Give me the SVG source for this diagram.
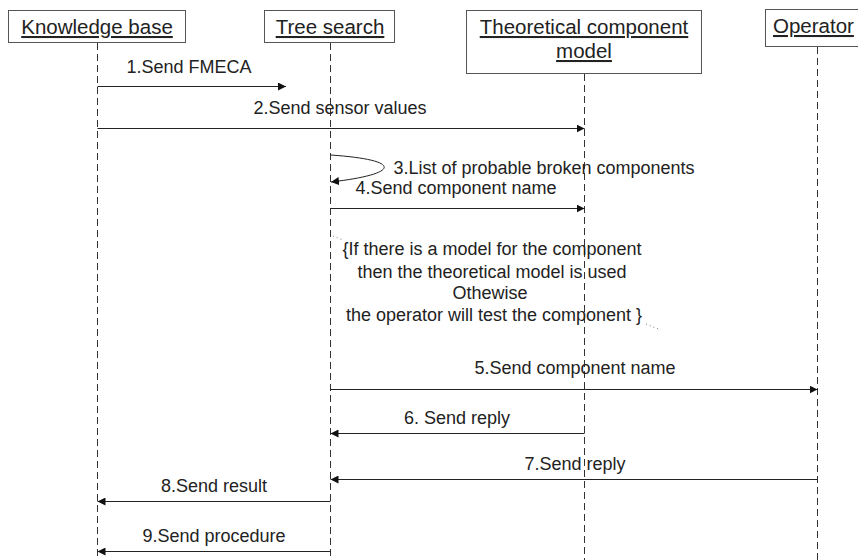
<svg xmlns="http://www.w3.org/2000/svg" width="858" height="560" viewBox="0 0 858 560">
  <style>
    .box { fill: #ffffff; stroke: #555555; stroke-width: 1; }
    .title { font-family: "Liberation Sans", Arial, sans-serif; font-size: 20.5px; fill: #222222; text-decoration: underline; text-anchor: middle; }
    .life { stroke: #333333; stroke-width: 1; stroke-dasharray: 7 4; fill: none; }
    .msg { stroke: #222222; stroke-width: 1; fill: none; marker-end: url(#head); }
    .lbl { font-family: "Liberation Sans", Arial, sans-serif; font-size: 18px; fill: #222222; text-anchor: middle; }
    .dots { stroke: #777777; stroke-width: 1; stroke-dasharray: 1 3; fill: none; }
  </style>
  <defs>
    <marker id="head" viewBox="0 0 8 8" refX="8" refY="4" markerWidth="8" markerHeight="8" markerUnits="userSpaceOnUse" orient="auto">
      <path d="M0,0 L8,4 L0,8 Z" fill="#111111"/>
    </marker>
  </defs>
  <rect width="858" height="560" fill="#ffffff"/>

  <!-- lifeline heads and their dashed lifelines -->
  <g id="knowledge-base">
    <rect class="box" x="8.5" y="10.5" width="177" height="32"/>
    <text class="title" x="97" y="34">Knowledge base</text>
    <line class="life" x1="97.5" y1="43" x2="97.5" y2="560"/>
  </g>
  <g id="tree-search">
    <rect class="box" x="264.5" y="10.5" width="130" height="32"/>
    <text class="title" x="330" y="34">Tree search</text>
    <line class="life" x1="330.5" y1="43" x2="330.5" y2="560"/>
  </g>
  <g id="theoretical-component-model">
    <rect class="box" x="466.5" y="10.5" width="235" height="63"/>
    <text class="title" x="584" y="34">Theoretical component</text>
    <text class="title" x="584" y="58">model</text>
    <line class="life" x1="584.5" y1="74" x2="584.5" y2="560"/>
  </g>
  <g id="operator">
    <rect class="box" x="765.5" y="9.5" width="110" height="37"/>
    <text class="title" x="773" y="33" style="text-anchor: start">Operator</text>
    <line class="life" x1="817.5" y1="47" x2="817.5" y2="560"/>
  </g>

  <!-- messages -->
  <g id="connectors">
    <line class="msg" x1="97.5" y1="86.5" x2="286" y2="86.5"/>
    <line class="msg" x1="97.5" y1="128.5" x2="584.5" y2="128.5"/>
    <path class="msg" d="M330.5,155 C404,160 400,174 331,182"/>
    <line class="msg" x1="330.5" y1="208.5" x2="584.5" y2="208.5"/>
    <line class="msg" x1="330.5" y1="389.5" x2="817.5" y2="389.5"/>
    <line class="msg" x1="584.5" y1="433.5" x2="330.5" y2="433.5"/>
    <line class="msg" x1="817.5" y1="479.5" x2="330.5" y2="479.5"/>
    <line class="msg" x1="330.5" y1="501.5" x2="97.5" y2="501.5"/>
    <line class="msg" x1="330.5" y1="551.5" x2="97.5" y2="551.5"/>
    <line class="dots" x1="333" y1="236" x2="343" y2="240"/>
    <line class="dots" x1="646" y1="324" x2="661" y2="330"/>
  </g>

  <!-- message labels -->
  <g id="labels">
    <text class="lbl" x="189" y="73">1.Send FMECA</text>
    <text class="lbl" x="340" y="114">2.Send sensor values</text>
    <text class="lbl" x="544" y="174">3.List of probable broken components</text>
    <text class="lbl" x="456" y="194">4.Send component name</text>
    <text class="lbl" x="575" y="374">5.Send component name</text>
    <text class="lbl" x="457" y="424">6. Send reply</text>
    <text class="lbl" x="575" y="470">7.Send reply</text>
    <text class="lbl" x="214" y="492">8.Send result</text>
    <text class="lbl" x="214" y="542">9.Send procedure</text>
  </g>

  <!-- guard note -->
  <g id="note">
    <text class="lbl" x="492" y="255">{If there is a model for the component</text>
    <text class="lbl" x="492" y="278">then the theoretical model is used</text>
    <text class="lbl" x="490" y="299">Othewise</text>
    <text class="lbl" x="494" y="321">the operator will test the component }</text>
  </g>
</svg>
